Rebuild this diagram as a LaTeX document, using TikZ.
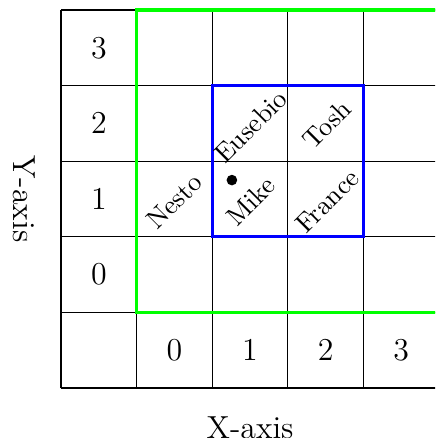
\documentclass[tikz,border=0pt]{standalone}
\begin{document}
\begin{tikzpicture}[
  gridline/.style={line width=0.4pt, black},
  numlabel/.style={font=\large},
  axislabel/.style={font=\large},
  namelabel/.style={font=\normalsize, rotate=45},
  zonebox/.style={line width=1.2pt}
]
\useasboundingbox (-0.807,-0.661) rectangle (4.947,5.132);
\clip (-0.807,-0.661) rectangle (4.947,5.132);
\draw[gridline] (0,0) grid (5,5);
\draw[zonebox, green] (1,1) rectangle (5,5);
\draw[zonebox, blue] (2,2) rectangle (4,4);
% column labels
\node[numlabel] (c0) at (1.5,0.5) {0};
\node[numlabel] (c1) at (2.5,0.5) {1};
\node[numlabel] (c2) at (3.5,0.5) {2};
\node[numlabel] (c3) at (4.5,0.5) {3};
% row labels
\node[numlabel] (r0) at (0.5,1.5) {0};
\node[numlabel] (r1) at (0.5,2.5) {1};
\node[numlabel] (r2) at (0.5,3.5) {2};
\node[numlabel] (r3) at (0.5,4.5) {3};
% axis labels
\node[axislabel] (xaxis) at (2.5,-0.53) {X-axis};
\node[axislabel, rotate=-90] (yaxis) at (-0.48,2.5) {Y-axis};
% names
\node[namelabel] (nesto) at (1.5,2.47) {Nesto};
\node[namelabel] (eusebio) at (2.51,3.46) {Eusebio};
\node[namelabel] (tosh) at (3.52,3.49) {Tosh};
\node[namelabel] (mike) at (2.51,2.47) {Mike};
\node[namelabel] (france) at (3.52,2.47) {France};
\fill (2.26,2.75) circle (2pt) coordinate (dot);
\end{tikzpicture}
\end{document}
